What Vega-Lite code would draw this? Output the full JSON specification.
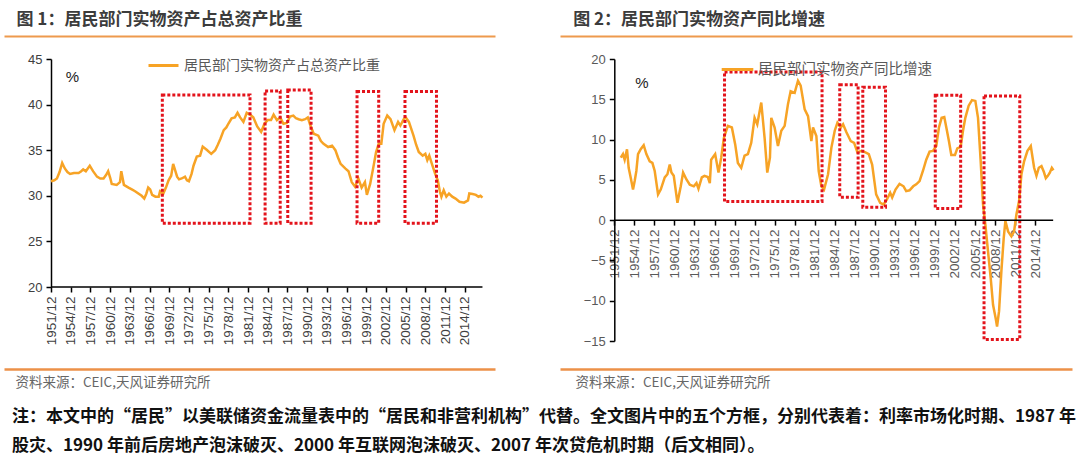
{
  "$schema": "https://vega.github.io/schema/vega-lite/v6.json",
  "background": "white",
  "padding": {"left": 4, "top": 10, "right": 0, "bottom": 0},
  "config": {
    "view": {"stroke": null},
    "font": "Liberation Sans",
    "axis": {"grid": false}
  },
  "datasets": {
    "left": [
      {"t":1951.0,"v":31.6},{"t":1951.5,"v":31.7},{"t":1951.9,"v":31.9},{"t":1952.3,"v":32.6},{"t":1952.7,"v":33.6},{"t":1953.1,"v":33.0},{"t":1953.5,"v":32.6},{"t":1953.9,"v":32.4},{"t":1954.5,"v":32.5},{"t":1955.2,"v":32.5},{"t":1955.6,"v":32.7},{"t":1955.9,"v":32.9},{"t":1956.3,"v":32.7},{"t":1956.9,"v":33.3},{"t":1957.4,"v":32.7},{"t":1958.0,"v":32.1},{"t":1958.5,"v":31.9},{"t":1959.0,"v":31.9},{"t":1959.4,"v":32.3},{"t":1959.7,"v":32.7},{"t":1960.0,"v":32.0},{"t":1960.25,"v":31.3},{"t":1961.0,"v":31.2},{"t":1961.5,"v":31.5},{"t":1961.7,"v":32.7},{"t":1962.1,"v":31.2},{"t":1962.8,"v":30.9},{"t":1963.3,"v":30.7},{"t":1963.8,"v":30.5},{"t":1964.3,"v":30.25},{"t":1964.8,"v":30.0},{"t":1965.2,"v":29.7},{"t":1965.5,"v":30.2},{"t":1965.8,"v":30.9},{"t":1966.1,"v":30.7},{"t":1966.4,"v":30.1},{"t":1966.9,"v":29.9},{"t":1967.4,"v":29.9},{"t":1967.6,"v":30.5},{"t":1968.1,"v":30.25},{"t":1968.5,"v":30.9},{"t":1968.9,"v":31.7},{"t":1969.3,"v":32.2},{"t":1969.6,"v":33.5},{"t":1970.2,"v":32.1},{"t":1970.5,"v":31.8},{"t":1970.9,"v":31.9},{"t":1971.4,"v":32.1},{"t":1971.7,"v":31.7},{"t":1972.0,"v":31.6},{"t":1972.4,"v":32.4},{"t":1972.7,"v":33.3},{"t":1973.2,"v":34.3},{"t":1973.7,"v":34.4},{"t":1974.1,"v":35.4},{"t":1974.7,"v":35.05},{"t":1975.4,"v":34.6},{"t":1976.0,"v":35.0},{"t":1976.4,"v":35.6},{"t":1976.8,"v":36.25},{"t":1977.3,"v":37.2},{"t":1977.7,"v":37.5},{"t":1978.0,"v":37.9},{"t":1978.5,"v":38.5},{"t":1979.0,"v":38.6},{"t":1979.4,"v":39.1},{"t":1979.8,"v":38.6},{"t":1980.3,"v":38.1},{"t":1980.8,"v":39.1},{"t":1981.3,"v":38.9},{"t":1981.8,"v":38.6},{"t":1982.4,"v":37.6},{"t":1983.0,"v":37.0},{"t":1983.5,"v":37.9},{"t":1984.0,"v":38.3},{"t":1984.5,"v":38.3},{"t":1984.9,"v":38.9},{"t":1985.4,"v":38.3},{"t":1985.9,"v":38.6},{"t":1986.4,"v":37.9},{"t":1986.9,"v":38.0},{"t":1987.4,"v":38.7},{"t":1987.9,"v":38.8},{"t":1988.3,"v":38.5},{"t":1988.7,"v":38.4},{"t":1989.2,"v":38.3},{"t":1989.7,"v":38.4},{"t":1990.1,"v":38.6},{"t":1990.5,"v":37.7},{"t":1991.0,"v":36.8},{"t":1991.7,"v":36.6},{"t":1992.1,"v":36.0},{"t":1992.5,"v":35.7},{"t":1993.2,"v":35.35},{"t":1993.8,"v":35.5},{"t":1994.3,"v":35.0},{"t":1994.7,"v":34.2},{"t":1995.1,"v":33.5},{"t":1995.8,"v":33.0},{"t":1996.3,"v":32.7},{"t":1996.8,"v":31.5},{"t":1997.3,"v":31.0},{"t":1997.8,"v":31.9},{"t":1998.3,"v":30.9},{"t":1998.8,"v":31.5},{"t":1999.1,"v":30.1},{"t":1999.6,"v":31.3},{"t":2000.1,"v":33.2},{"t":2000.5,"v":34.8},{"t":2000.9,"v":35.7},{"t":2001.3,"v":35.7},{"t":2001.65,"v":37.9},{"t":2002.2,"v":38.8},{"t":2002.7,"v":38.4},{"t":2003.3,"v":37.2},{"t":2003.85,"v":38.1},{"t":2004.2,"v":37.7},{"t":2004.7,"v":38.4},{"t":2005.0,"v":38.6},{"t":2005.5,"v":38.1},{"t":2006.2,"v":36.6},{"t":2006.6,"v":35.6},{"t":2007.0,"v":34.8},{"t":2007.6,"v":34.4},{"t":2008.0,"v":34.6},{"t":2008.3,"v":33.9},{"t":2008.6,"v":34.4},{"t":2009.0,"v":33.5},{"t":2009.5,"v":32.4},{"t":2009.9,"v":31.7},{"t":2010.2,"v":30.5},{"t":2010.45,"v":29.9},{"t":2010.8,"v":30.6},{"t":2011.2,"v":29.9},{"t":2011.6,"v":30.25},{"t":2012.1,"v":29.9},{"t":2012.6,"v":29.7},{"t":2013.2,"v":29.35},{"t":2013.9,"v":29.25},{"t":2014.5,"v":29.5},{"t":2014.7,"v":30.25},{"t":2015.2,"v":30.2},{"t":2015.7,"v":30.1},{"t":2016.1,"v":29.9},{"t":2016.4,"v":30.0},{"t":2016.7,"v":29.8}
    ],
    "right": [
      {"t":1951.96,"v":7.75},{"t":1952.3,"v":8.2},{"t":1952.55,"v":7.5},{"t":1952.9,"v":8.8},{"t":1953.15,"v":6.5},{"t":1953.45,"v":5.3},{"t":1953.8,"v":3.8},{"t":1954.05,"v":4.85},{"t":1954.3,"v":6.1},{"t":1954.55,"v":8.2},{"t":1954.95,"v":8.8},{"t":1955.4,"v":9.3},{"t":1955.8,"v":8.2},{"t":1956.3,"v":7.3},{"t":1956.7,"v":7.1},{"t":1957.05,"v":6.1},{"t":1957.55,"v":3.2},{"t":1957.95,"v":3.8},{"t":1958.55,"v":5.3},{"t":1958.95,"v":5.7},{"t":1959.3,"v":6.9},{"t":1959.55,"v":5.9},{"t":1959.9,"v":5.5},{"t":1960.45,"v":2.15},{"t":1960.95,"v":4.2},{"t":1961.3,"v":5.9},{"t":1961.8,"v":5.05},{"t":1962.3,"v":4.4},{"t":1962.9,"v":4.2},{"t":1963.3,"v":4.6},{"t":1963.6,"v":3.9},{"t":1964.1,"v":5.3},{"t":1964.5,"v":5.5},{"t":1965.0,"v":5.35},{"t":1965.3,"v":4.6},{"t":1965.5,"v":7.5},{"t":1966.1,"v":8.2},{"t":1966.6,"v":5.9},{"t":1967.0,"v":7.75},{"t":1967.4,"v":10.2},{"t":1968.0,"v":11.7},{"t":1968.6,"v":11.5},{"t":1969.1,"v":9.4},{"t":1969.5,"v":7.1},{"t":1970.0,"v":6.5},{"t":1970.5,"v":8.0},{"t":1971.0,"v":8.2},{"t":1971.5,"v":9.6},{"t":1972.0,"v":12.7},{"t":1972.4,"v":11.9},{"t":1973.0,"v":14.6},{"t":1973.5,"v":10.2},{"t":1973.9,"v":5.9},{"t":1974.3,"v":7.75},{"t":1974.5,"v":12.7},{"t":1975.0,"v":11.5},{"t":1975.5,"v":9.2},{"t":1976.0,"v":11.1},{"t":1976.5,"v":11.7},{"t":1977.0,"v":14.4},{"t":1977.4,"v":16.0},{"t":1978.0,"v":15.8},{"t":1978.5,"v":17.3},{"t":1978.9,"v":16.7},{"t":1979.5,"v":13.75},{"t":1980.0,"v":12.9},{"t":1980.5,"v":9.8},{"t":1980.75,"v":11.5},{"t":1981.25,"v":10.45},{"t":1981.6,"v":6.1},{"t":1982.0,"v":4.2},{"t":1982.4,"v":3.8},{"t":1983.0,"v":5.7},{"t":1983.5,"v":9.0},{"t":1984.0,"v":11.1},{"t":1984.4,"v":12.1},{"t":1984.9,"v":11.5},{"t":1985.25,"v":11.9},{"t":1985.75,"v":10.9},{"t":1986.4,"v":9.8},{"t":1986.9,"v":9.6},{"t":1987.4,"v":8.4},{"t":1988.0,"v":8.6},{"t":1988.6,"v":8.4},{"t":1989.1,"v":8.2},{"t":1989.6,"v":6.9},{"t":1990.2,"v":3.2},{"t":1990.8,"v":2.15},{"t":1991.3,"v":1.95},{"t":1991.8,"v":2.55},{"t":1992.3,"v":3.4},{"t":1992.6,"v":2.8},{"t":1993.1,"v":3.8},{"t":1993.7,"v":4.5},{"t":1994.3,"v":4.2},{"t":1994.7,"v":3.6},{"t":1995.2,"v":3.7},{"t":1995.75,"v":4.2},{"t":1996.2,"v":4.45},{"t":1996.7,"v":4.85},{"t":1997.2,"v":6.1},{"t":1997.7,"v":7.5},{"t":1998.2,"v":8.5},{"t":1998.7,"v":8.6},{"t":1999.2,"v":9.2},{"t":1999.6,"v":11.5},{"t":2000.0,"v":12.7},{"t":2000.4,"v":12.8},{"t":2000.75,"v":11.3},{"t":2001.1,"v":9.8},{"t":2001.45,"v":8.1},{"t":2002.0,"v":8.1},{"t":2002.35,"v":8.9},{"t":2002.85,"v":9.1},{"t":2003.2,"v":11.1},{"t":2003.55,"v":12.7},{"t":2004.05,"v":14.2},{"t":2004.55,"v":14.9},{"t":2005.05,"v":14.8},{"t":2005.45,"v":12.7},{"t":2005.85,"v":7.3},{"t":2006.2,"v":1.95},{"t":2006.55,"v":-0.55},{"t":2006.95,"v":-3.9},{"t":2007.35,"v":-7.2},{"t":2007.7,"v":-10.5},{"t":2008.1,"v":-12.2},{"t":2008.3,"v":-13.2},{"t":2008.6,"v":-11.3},{"t":2008.95,"v":-6.3},{"t":2009.3,"v":-2.2},{"t":2009.55,"v":-0.1},{"t":2009.95,"v":-1.4},{"t":2010.45,"v":-2.0},{"t":2010.85,"v":-1.4},{"t":2011.2,"v":0.7},{"t":2011.6,"v":2.4},{"t":2011.95,"v":5.7},{"t":2012.35,"v":7.3},{"t":2012.85,"v":8.6},{"t":2013.35,"v":9.2},{"t":2013.85,"v":6.5},{"t":2014.2,"v":5.5},{"t":2014.55,"v":6.5},{"t":2014.95,"v":6.7},{"t":2015.3,"v":6.0},{"t":2015.6,"v":5.2},{"t":2015.9,"v":5.5},{"t":2016.2,"v":5.9},{"t":2016.5,"v":6.5},{"t":2016.75,"v":6.2}
    ],
    "leftBoxes": [
      {"x1":1967.95,"x2":1981.3,"y1":27.0,"y2":41.05},
      {"x1":1983.6,"x2":1985.9,"y1":27.0,"y2":41.5},
      {"x1":1987.05,"x2":1990.6,"y1":27.0,"y2":41.6},
      {"x1":1997.6,"x2":2000.9,"y1":27.0,"y2":41.45},
      {"x1":2004.9,"x2":2009.7,"y1":27.0,"y2":41.45}
    ],
    "rightBoxes": [
      {"x1":1967.5,"x2":1982.1,"y1":2.3,"y2":18.4},
      {"x1":1984.75,"x2":1987.5,"y1":2.85,"y2":16.8},
      {"x1":1988.2,"x2":1991.6,"y1":1.6,"y2":16.5},
      {"x1":1999.05,"x2":2002.85,"y1":1.45,"y2":15.5},
      {"x1":2006.35,"x2":2011.7,"y1":-14.8,"y2":15.4}
    ]
  },
  "title": {
    "text": [
      "注：本文中的“居民”以美联储资金流量表中的“居民和非营利机构”代替。全文图片中的五个方框，分别代表着：利率市场化时期、1987 年",
      "股灾、1990 年前后房地产泡沫破灭、2000 年互联网泡沫破灭、2007 年次贷危机时期（后文相同）。"
    ],
    "orient": "bottom",
    "anchor": "start",
    "frame": "bounds",
    "font": "Noto Sans CJK SC",
    "fontSize": 17,
    "fontWeight": "bold",
    "color": "#111111",
    "lineHeight": 29,
    "offset": 20,
    "dx": 8
  },
  "spacing": 65,
  "resolve": {"scale": {"color": "independent"}, "legend": {"color": "independent"}},
  "hconcat": [
    {
      "width": 491,
      "height": 228,
      "layer": [
        {
          "data": {"name": "left"},
          "mark": {"type": "line", "strokeWidth": 2.5},
          "encoding": {
            "x": {
              "field": "t", "type": "quantitative",
              "scale": {"domain": [1943.84, 2018.61], "nice": false, "zero": false},
              "axis": {
                "orient": "bottom", "values": [1951,1954,1957,1960,1963,1966,1969,1972,1975,1978,1981,1984,1987,1990,1993,1996,1999,2002,2005,2008,2011,2014],
                "labelExpr": "datum.value + '/12'", "labelAngle": -90, "labelAlign": "right", "labelBaseline": "middle",
                "labelPadding": 4, "labelFontSize": 13.5, "labelColor": "#404040", "labelOverlap": false, "labelFlush": false,
                "domain": false, "ticks": true, "tickSize": 5, "tickColor": "#000000", "tickWidth": 1.5, "title": null
              }
            },
            "y": {
              "field": "v", "type": "quantitative",
              "scale": {"domain": [20, 45], "nice": false, "zero": false},
              "axis": {
                "orient": "left", "offset": -47, "values": [20,25,30,35,40,45],
                "domainColor": "#000000", "domainWidth": 1.5, "tickColor": "#000000", "tickSize": 5, "tickWidth": 1.5,
                "labelFontSize": 13, "labelColor": "#404040", "labelPadding": 4,
                "title": "%", "titleAngle": 0, "titleX": 21, "titleY": 17, "titleAlign": "center", "titleBaseline": "middle",
                "titleFontSize": 15, "titleFontWeight": "normal", "titleColor": "#222222"
              }
            },
            "color": {
              "datum": "居民部门实物资产占总资产比重",
              "scale": {"range": ["#F7A325"]},
              "legend": {
                "orient": "none", "legendX": 143, "legendY": -10, "title": null,
                "symbolType": "stroke", "symbolStrokeWidth": 3, "symbolSize": 900,
                "labelFont": "Noto Sans CJK SC", "labelFontSize": 14, "labelColor": "#595959", "labelOffset": 4, "labelLimit": 0
              }
            }
          }
        },
        {
          "data": {"name": "leftBoxes"},
          "mark": {"type": "rect", "fill": null, "fillOpacity": 0, "stroke": "#E3131B", "strokeWidth": 3, "strokeDash": [3, 2]},
          "encoding": {
            "x": {
              "field": "x1", "type": "quantitative",
              "scale": {"domain": [1943.84, 2018.61], "nice": false, "zero": false},
              "axis": {
                "orient": "top", "offset": -310, "domain": true, "domainColor": "#EC9148", "domainWidth": 2.5,
                "ticks": false, "labels": false,
                "title": "资料来源：CEIC,天风证券研究所", "titleAnchor": "start", "titleAlign": "left", "titleBaseline": "middle",
                "titleX": 11, "titleY": 13, "titleFont": "Noto Sans CJK SC", "titleFontSize": 13.5, "titleFontWeight": "normal", "titleColor": "#666666", "titleAngle": 0
              }
            },
            "x2": {"field": "x2"},
            "y": {"field": "y1", "type": "quantitative", "scale": {"domain": [20, 45], "nice": false, "zero": false}, "axis": null},
            "y2": {"field": "y2"}
          }
        },
        {
          "data": {"name": "left"},
          "mark": {"type": "rule", "color": "#000000", "strokeWidth": 1.5},
          "encoding": {
            "x": {
              "field": "t", "aggregate": "min", "type": "quantitative",
              "scale": {"domain": [1943.84, 2018.61], "nice": false, "zero": false},
              "axis": {
                "orient": "top", "offset": 23, "domain": true, "domainColor": "#EE9A4D", "domainWidth": 2,
                "ticks": false, "labels": false,
                "title": "图 1：居民部门实物资产占总资产比重", "titleAnchor": "start", "titleAlign": "left", "titleBaseline": "middle",
                "titleX": 12, "titleY": -17, "titleFont": "Noto Sans CJK SC", "titleFontSize": 17, "titleFontWeight": "bold", "titleColor": "#3c3c3c", "titleAngle": 0
              }
            },
            "x2": {"field": "t", "aggregate": "max"},
            "y": {"datum": 20, "type": "quantitative", "axis": null}
          }
        }
      ],
      "resolve": {"axis": {"x": "independent", "y": "independent"}}
    },
    {
      "width": 512,
      "height": 282,
      "layer": [
        {
          "data": {"name": "right"},
          "mark": {"type": "line", "strokeWidth": 2.5},
          "encoding": {
            "x": {
              "field": "t", "type": "quantitative",
              "scale": {"domain": [1942.87, 2019.52], "nice": false, "zero": false},
              "axis": {
                "orient": "bottom", "offset": -120.9, "values": [1951,1954,1957,1960,1963,1966,1969,1972,1975,1978,1981,1984,1987,1990,1993,1996,1999,2002,2005,2008,2011,2014],
                "labelExpr": "datum.value + '/12'", "labelAngle": -90, "labelAlign": "right", "labelBaseline": "middle",
                "labelPadding": 4, "labelFontSize": 13.5, "labelColor": "#595959", "labelOverlap": false, "labelFlush": false,
                "domain": false, "ticks": true, "tickSize": 5, "tickColor": "#000000", "tickWidth": 1.5, "title": null
              }
            },
            "y": {
              "field": "v", "type": "quantitative",
              "scale": {"domain": [-15, 20], "nice": false, "zero": false},
              "axis": {
                "orient": "left", "offset": -54.3, "values": [-15,-10,-5,0,5,10,15,20],
                "domainColor": "#000000", "domainWidth": 1.5, "tickColor": "#000000", "tickSize": 5, "tickWidth": 1.5,
                "labelFontSize": 13, "labelColor": "#595959", "labelPadding": 4,
                "title": "%", "titleAngle": 0, "titleX": 27, "titleY": 23, "titleAlign": "center", "titleBaseline": "middle",
                "titleFontSize": 15, "titleFontWeight": "normal", "titleColor": "#222222"
              }
            },
            "color": {
              "datum": "居民部门实物资产同比增速",
              "scale": {"range": ["#F7A325"]},
              "legend": {
                "orient": "none", "legendX": 160, "legendY": -7, "title": null,
                "symbolType": "stroke", "symbolStrokeWidth": 3, "symbolSize": 1000,
                "labelFont": "Noto Sans CJK SC", "labelFontSize": 14.5, "labelColor": "#595959", "labelOffset": 3, "labelLimit": 0
              }
            }
          }
        },
        {
          "data": {"name": "rightBoxes"},
          "mark": {"type": "rect", "fill": null, "fillOpacity": 0, "stroke": "#E3131B", "strokeWidth": 3, "strokeDash": [3, 2]},
          "encoding": {
            "x": {
              "field": "x1", "type": "quantitative",
              "scale": {"domain": [1942.87, 2019.52], "nice": false, "zero": false},
              "axis": {
                "orient": "top", "offset": -310, "domain": true, "domainColor": "#EC9148", "domainWidth": 2.5,
                "ticks": false, "labels": false,
                "title": "资料来源：CEIC,天风证券研究所", "titleAnchor": "start", "titleAlign": "left", "titleBaseline": "middle",
                "titleX": 15, "titleY": 13, "titleFont": "Noto Sans CJK SC", "titleFontSize": 13.5, "titleFontWeight": "normal", "titleColor": "#666666", "titleAngle": 0
              }
            },
            "x2": {"field": "x2"},
            "y": {"field": "y1", "type": "quantitative", "scale": {"domain": [-15, 20], "nice": false, "zero": false}, "axis": null},
            "y2": {"field": "y2"}
          }
        },
        {
          "data": {"name": "left"},
          "mark": {"type": "rule", "color": "#000000", "strokeWidth": 1.5},
          "encoding": {
            "x": {
              "field": "t", "aggregate": "min", "type": "quantitative",
              "scale": {"domain": [1942.87, 2019.52], "nice": false, "zero": false},
              "axis": {
                "orient": "top", "offset": 23, "domain": true, "domainColor": "#EE9A4D", "domainWidth": 2,
                "ticks": false, "labels": false,
                "title": "图 2：居民部门实物资产同比增速", "titleAnchor": "start", "titleAlign": "left", "titleBaseline": "middle",
                "titleX": 12.7, "titleY": -17, "titleFont": "Noto Sans CJK SC", "titleFontSize": 17, "titleFontWeight": "bold", "titleColor": "#3c3c3c", "titleAngle": 0
              }
            },
            "x2": {"field": "t", "aggregate": "max"},
            "y": {"datum": 0, "type": "quantitative", "axis": null}
          }
        }
      ],
      "resolve": {"axis": {"x": "independent", "y": "independent"}}
    }
  ]
}
